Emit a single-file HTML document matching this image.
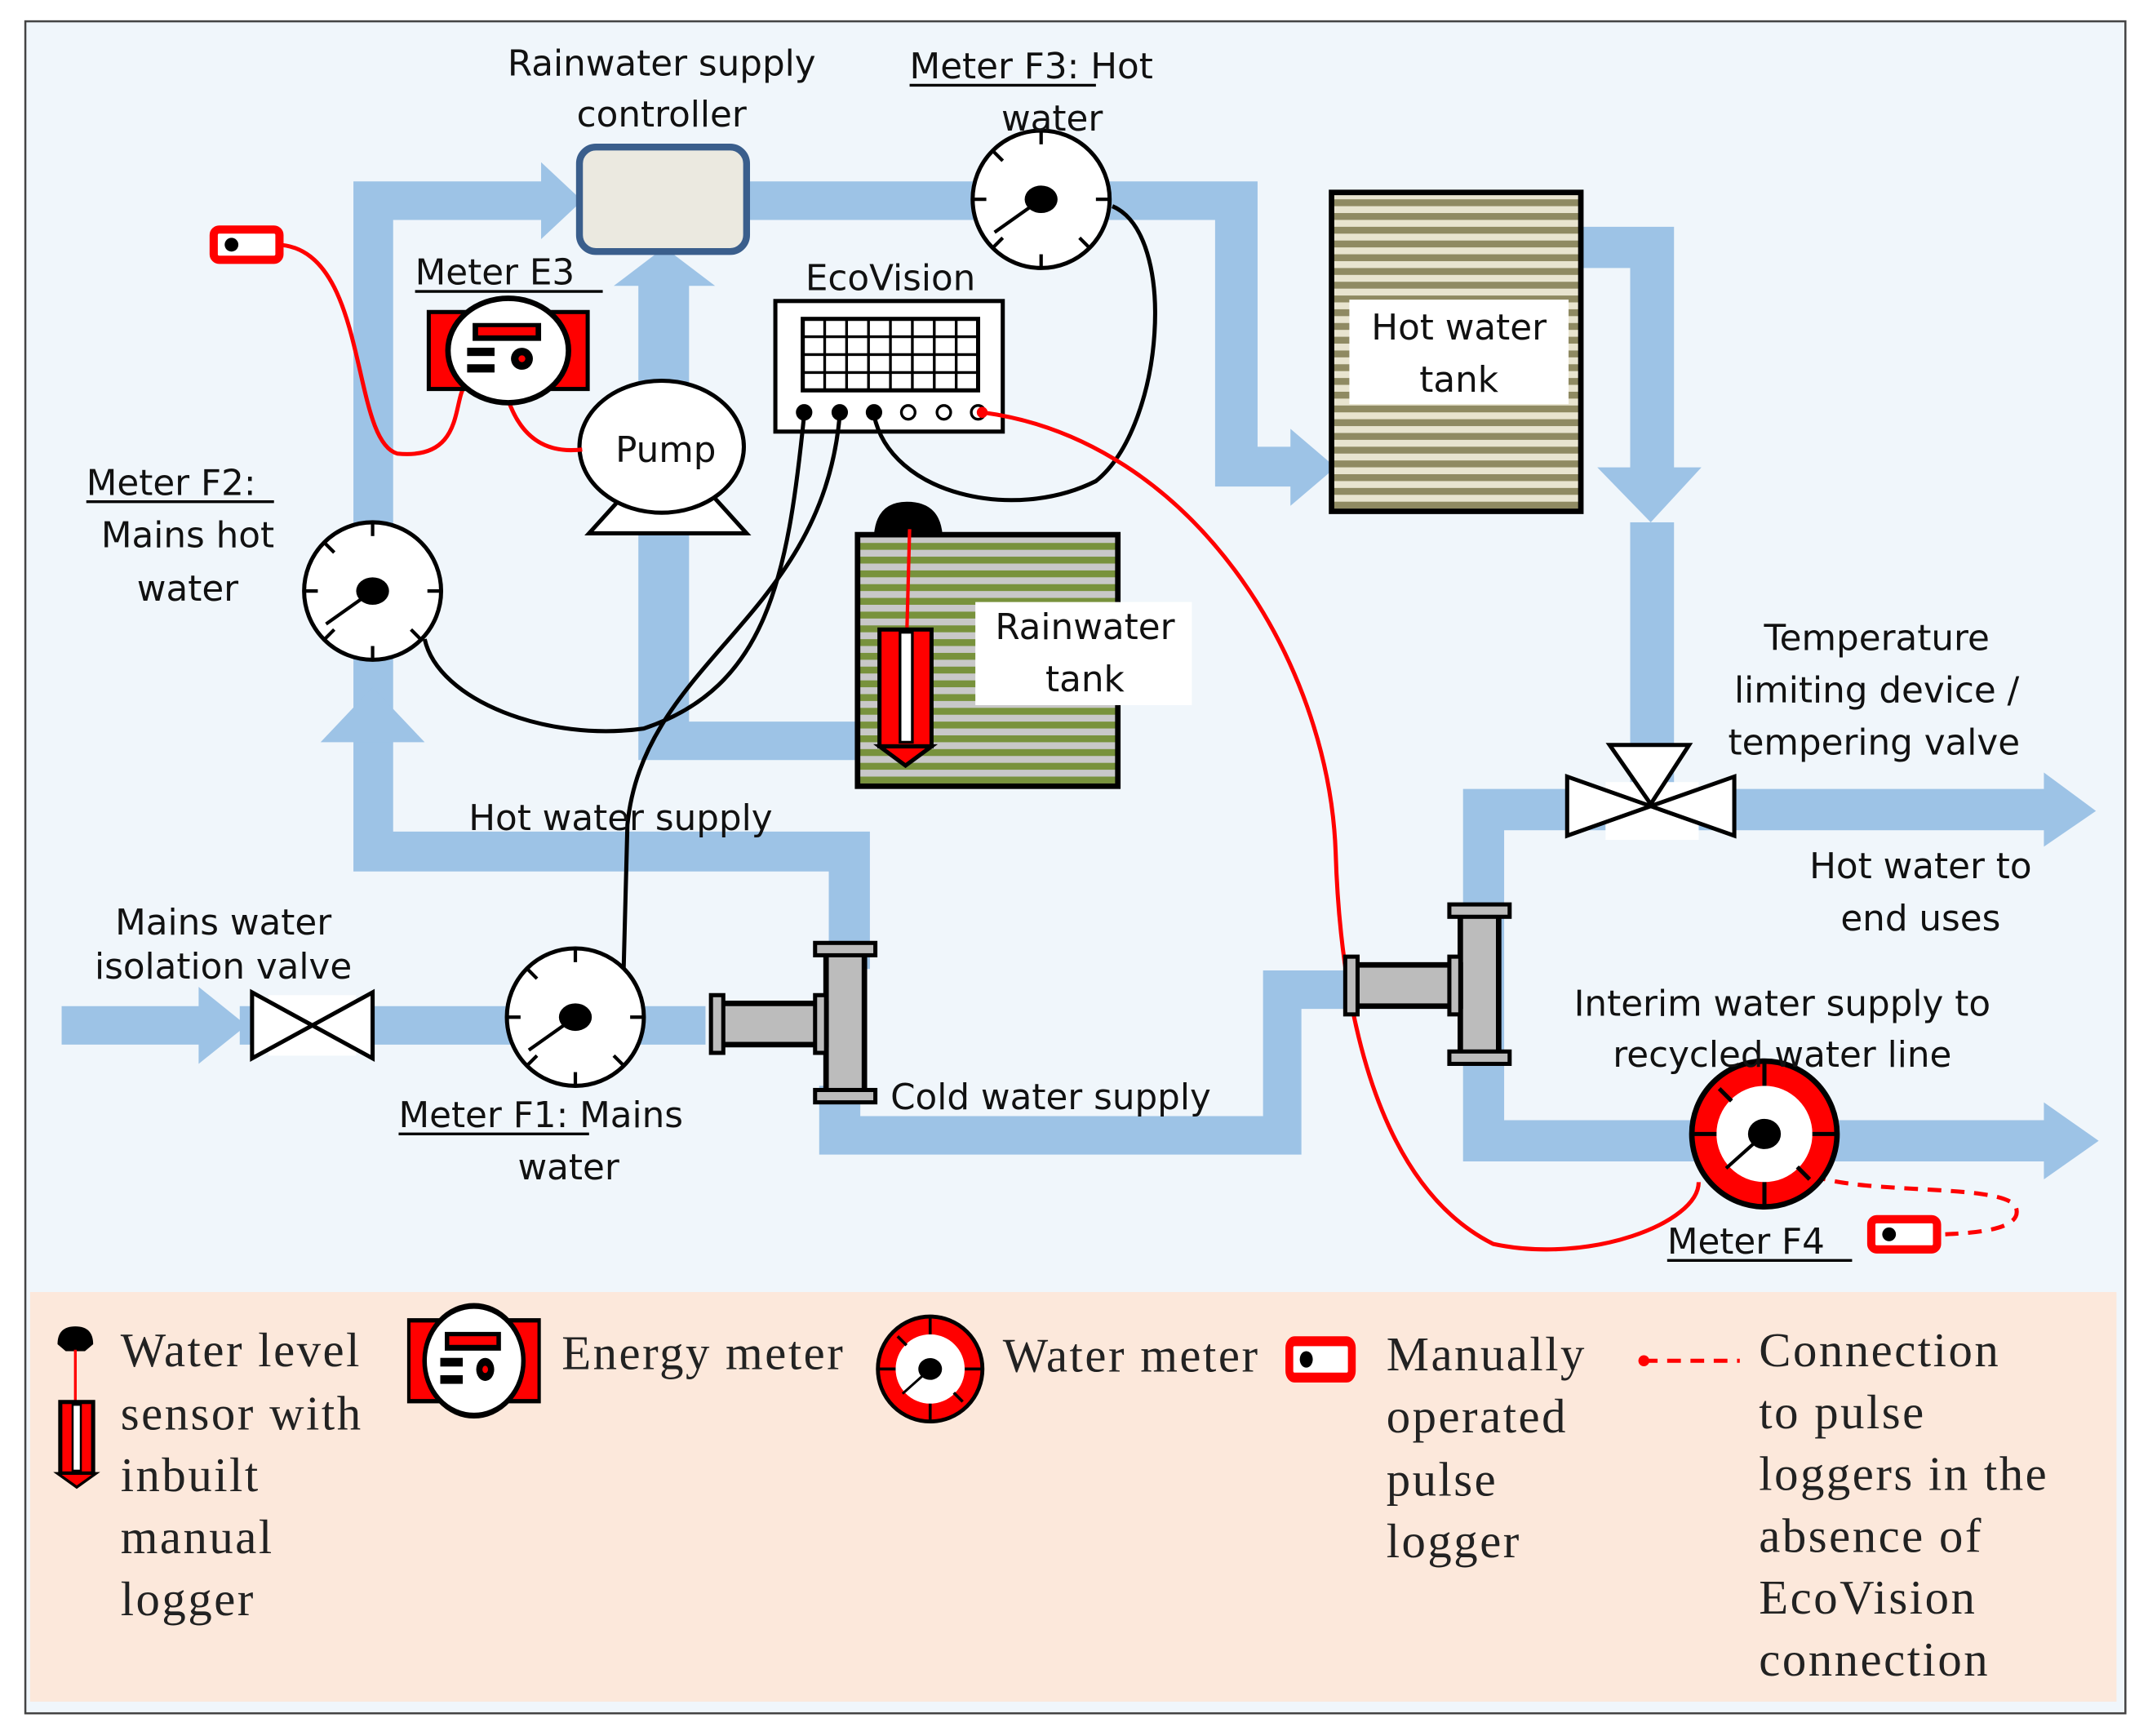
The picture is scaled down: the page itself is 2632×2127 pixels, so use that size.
<!DOCTYPE html>
<html><head><meta charset="utf-8"><style>
html,body{margin:0;padding:0;background:#fff;}
svg{display:block;}
.t{font-family:"DejaVu Sans","Liberation Sans",sans-serif;font-size:26px;fill:#111;}
.s{font-family:"Liberation Serif",serif;font-size:35px;fill:#222;letter-spacing:1.5px;}
</style></head><body>
<svg width="2632" height="2127" viewBox="0 0 1568 1263" preserveAspectRatio="none" xmlns="http://www.w3.org/2000/svg">
<defs>
<pattern id="hw" width="10" height="10" patternUnits="userSpaceOnUse"><rect width="10" height="10" fill="#e8e4cf"/><rect y="5" width="10" height="5" fill="#8f8a62"/></pattern>
<pattern id="rw" width="10" height="10" patternUnits="userSpaceOnUse"><rect width="10" height="10" fill="#c8c8c8"/><rect y="5" width="10" height="5" fill="#78923c"/></pattern>
<g id="gauge">
<circle r="50" fill="#fff" stroke="#000" stroke-width="3"/>
<g stroke="#000" stroke-width="2.5"><line x1="0" y1="-50" x2="0" y2="-40"/><line x1="0" y1="50" x2="0" y2="40"/><line x1="-50" y1="0" x2="-40" y2="0"/><line x1="50" y1="0" x2="40" y2="0"/><line x1="-35" y1="-35" x2="-28" y2="-28"/><line x1="35" y1="35" x2="28" y2="28"/><line x1="-35" y1="35" x2="-28" y2="28"/></g>
<ellipse rx="12" ry="10" fill="#000"/><line x1="0" y1="0" x2="-34" y2="24" stroke="#000" stroke-width="2.5"/>
</g>
<g id="wmeter">
<circle r="53" fill="#f00" stroke="#000" stroke-width="4"/><circle r="35" fill="#fff"/>
<g stroke="#000" stroke-width="3"><line x1="0" y1="-53" x2="0" y2="-35"/><line x1="0" y1="53" x2="0" y2="35"/><line x1="-53" y1="0" x2="-35" y2="0"/><line x1="53" y1="0" x2="35" y2="0"/><line x1="-33" y1="-33" x2="-24" y2="-24"/><line x1="33" y1="33" x2="24" y2="24"/></g>
<ellipse rx="12" ry="11" fill="#000"/><line x1="0" y1="0" x2="-28" y2="25" stroke="#000" stroke-width="2.5"/>
</g>
<g id="emeter">
<rect x="-58" y="-28" width="116" height="56" fill="#f00" stroke="#000" stroke-width="3"/>
<ellipse rx="44" ry="38" fill="#fff" stroke="#000" stroke-width="4"/>
<rect x="-26" y="-20" width="50" height="13" fill="#000"/><rect x="-22" y="-17" width="42" height="6" fill="#f00"/>
<rect x="-30" y="-2" width="20" height="6" fill="#000"/><rect x="-30" y="10" width="20" height="6" fill="#000"/>
<circle cx="10" cy="6" r="8" fill="#000"/><circle cx="10" cy="6" r="2.5" fill="#f00"/>
</g>
<g id="logger">
<rect x="-24" y="-11" width="48" height="22" rx="4" fill="#fff" stroke="#f00" stroke-width="6"/><ellipse cx="-11" rx="5" ry="5" fill="#000"/>
</g>
<g id="tee">
<rect x="-12" y="-55" width="28" height="110" fill="#bcbcbc" stroke="#000" stroke-width="4"/>
<rect x="-20" y="-58" width="44" height="9" fill="#bcbcbc" stroke="#000" stroke-width="3"/>
<rect x="-20" y="49" width="44" height="9" fill="#bcbcbc" stroke="#000" stroke-width="3"/>
<rect x="-88" y="-14" width="76" height="30" fill="#bcbcbc" stroke="#000" stroke-width="4"/>
<rect x="-96" y="-20" width="9" height="42" fill="#bcbcbc" stroke="#000" stroke-width="3"/>
<rect x="-20" y="-20" width="8" height="42" fill="#bcbcbc" stroke="#000" stroke-width="3"/>
</g>
</defs>
<rect x="0" y="0" width="1568" height="1263" fill="#fff"/>
<rect x="18.5" y="15.5" width="1533" height="1231" fill="#f0f6fb" stroke="#444" stroke-width="1.5"/>
<rect x="22" y="940" width="1523" height="298" fill="#fce8db"/>

<!-- pipes -->
<g fill="#9dc3e6">
<path d="M258 132 H395 V118 L425 146 L395 174 V160 H287 V605 H635 V705 H605 V634 H258 Z"/>
<polygon points="234,540 272,500 310,540"/>
<path d="M45 732 H145 V718 L180 746 L145 774 V760 H45 Z"/>
<rect x="175" y="732" width="340" height="28"/>
<path d="M598 790 H628 V812 H922 V706 H985 V734 H950 V840 H598 Z"/>
<path d="M466 206 V553 H630 V525 H503 V206 Z"/>
<polygon points="448,208 485,180 522,208"/>
<path d="M545 132 H918 V325 H942 V312 L975 340 L942 368 V354 H887 V160 H545 Z"/>
<path d="M1150 165 H1222 V340 H1242 L1205 380 L1166 340 H1190 V195 H1150 Z"/>
<rect x="1190" y="380" width="32" height="200"/>
<path d="M1068 574 H1492 V562 L1530 590 L1492 616 V604 H1098 V815 H1492 V802 L1532 830 L1492 858 V845 H1068 Z"/>
</g>

<!-- controller -->
<rect x="423" y="107" width="122" height="76" rx="12" fill="#ebe9e0" stroke="#3a5e8c" stroke-width="5"/>
<text class="t" x="483" y="55" text-anchor="middle">Rainwater supply</text>
<text class="t" x="483" y="92" text-anchor="middle">controller</text>

<!-- hot water tank -->
<rect x="972" y="140" width="182" height="232" fill="url(#hw)" stroke="#000" stroke-width="4"/>
<rect x="985" y="218" width="160" height="76" fill="#fff"/>
<text class="t" x="1065" y="247" text-anchor="middle">Hot water</text>
<text class="t" x="1065" y="285" text-anchor="middle">tank</text>

<!-- rainwater tank -->
<rect x="626" y="389" width="190" height="183" fill="url(#rw)" stroke="#000" stroke-width="4"/>
<rect x="712" y="438" width="158" height="75" fill="#fff"/>
<text class="t" x="792" y="465" text-anchor="middle">Rainwater</text>
<text class="t" x="792" y="503" text-anchor="middle">tank</text>
<path d="M638 389 Q640 365 662 365 Q686 365 688 389 Z" fill="#000"/>
<line x1="664" y1="385" x2="662" y2="460" stroke="#f00" stroke-width="2.5"/>
<rect x="642" y="458" width="38" height="85" fill="#f00" stroke="#000" stroke-width="3"/>
<rect x="657" y="460" width="9" height="80" fill="#fff" stroke="#000" stroke-width="2"/>
<polygon points="642,543 680,543 661,557" fill="#f00" stroke="#000" stroke-width="3"/>

<!-- EcoVision -->
<text class="t" x="650" y="211" text-anchor="middle">EcoVision</text>
<rect x="566" y="219" width="166" height="95" fill="#fff" stroke="#000" stroke-width="3"/>
<rect x="586" y="232" width="128" height="52" fill="#fff" stroke="#000" stroke-width="3"/>
<g stroke="#000" stroke-width="2">
<line x1="602" y1="232" x2="602" y2="284"/><line x1="618" y1="232" x2="618" y2="284"/><line x1="634" y1="232" x2="634" y2="284"/><line x1="650" y1="232" x2="650" y2="284"/><line x1="666" y1="232" x2="666" y2="284"/><line x1="682" y1="232" x2="682" y2="284"/><line x1="698" y1="232" x2="698" y2="284"/>
<line x1="586" y1="245" x2="714" y2="245"/><line x1="586" y1="258" x2="714" y2="258"/><line x1="586" y1="271" x2="714" y2="271"/>
</g>
<g stroke="#000" stroke-width="2"><circle cx="587" cy="300" r="5" fill="#000"/><circle cx="613" cy="300" r="5" fill="#000"/><circle cx="638" cy="300" r="5" fill="#000"/><circle cx="663" cy="300" r="5" fill="#fff"/><circle cx="689" cy="300" r="5" fill="#fff"/><circle cx="714" cy="300" r="5" fill="#fff"/></g>
<circle cx="717" cy="300" r="4" fill="#f00"/>

<!-- Pump -->
<polygon points="430,388 460,355 515,355 545,388" fill="#fff" stroke="#000" stroke-width="3"/>
<ellipse cx="483" cy="325" rx="60" ry="48" fill="#fff" stroke="#000" stroke-width="3"/>
<text class="t" x="486" y="336" text-anchor="middle">Pump</text>

<!-- wires black -->
<g fill="none" stroke="#000" stroke-width="3">
<path d="M587 302 C575 420 560 500 470 530 C400 540 320 510 310 465"/>
<path d="M613 302 C600 450 470 480 458 600 L455 715"/>
<path d="M638 302 C650 360 740 380 800 350 C850 310 860 170 812 150"/>
</g>
<!-- red wires -->
<g fill="none" stroke="#f00" stroke-width="3">
<path d="M202 178 C270 180 255 320 290 330 C340 335 330 290 340 280"/>
<path d="M370 288 C380 320 400 330 425 327"/>
<path d="M717 300 C870 320 970 480 975 620 C978 720 1000 860 1090 905 C1160 920 1240 890 1240 860"/>
<path d="M1323 855 C1360 870 1470 860 1472 880 C1475 895 1440 897 1420 898" stroke-dasharray="10,7"/>
</g>
<circle cx="202" cy="178" r="4" fill="#f00"/><circle cx="370" cy="288" r="4" fill="#f00"/>

<!-- meters -->
<use href="#gauge" x="760" y="145"/>
<use href="#gauge" x="272" y="430"/>
<use href="#gauge" x="420" y="740"/>
<use href="#emeter" x="371" y="255"/>
<use href="#logger" x="180" y="178"/>
<use href="#wmeter" x="1288" y="825"/>
<use href="#logger" x="1390" y="898"/>
<use href="#tee" x="615" y="744"/>
<use href="#tee" x="1078" y="716"/>

<!-- valves -->
<rect x="196" y="724" width="64" height="44" fill="#fff"/>
<polygon points="184,722 184,770 272,722 272,770" fill="#fff" stroke="#000" stroke-width="3"/>
<rect x="1172" y="569" width="68" height="42" fill="#fff"/>
<polygon points="1144,565 1144,608 1266,565 1266,608" fill="#fff" stroke="#000" stroke-width="3"/>
<polygon points="1175,542 1233,542 1205,585" fill="#fff" stroke="#000" stroke-width="3"/>

<!-- labels -->
<text class="t" x="664" y="57">Meter F3: Hot</text><line x1="664" y1="62" x2="800" y2="62" stroke="#000" stroke-width="2"/>
<text class="t" x="768" y="95" text-anchor="middle">water</text>
<text class="t" x="303" y="207">Meter E3</text><line x1="303" y1="212" x2="440" y2="212" stroke="#000" stroke-width="2"/>
<text class="t" x="63" y="360">Meter F2:</text><line x1="63" y1="365" x2="200" y2="365" stroke="#000" stroke-width="2"/>
<text class="t" x="137" y="398" text-anchor="middle">Mains hot</text>
<text class="t" x="137" y="437" text-anchor="middle">water</text>
<text class="t" x="453" y="604" text-anchor="middle">Hot water supply</text>
<text class="t" x="163" y="680" text-anchor="middle">Mains water</text>
<text class="t" x="163" y="712" text-anchor="middle">isolation valve</text>
<text class="t" x="291" y="820">Meter F1: Mains</text><line x1="291" y1="825" x2="430" y2="825" stroke="#000" stroke-width="2"/>
<text class="t" x="415" y="858" text-anchor="middle">water</text>
<text class="t" x="650" y="807">Cold water supply</text>
<text class="t" x="1370" y="473" text-anchor="middle">Temperature</text>
<text class="t" x="1370" y="511" text-anchor="middle">limiting device /</text>
<text class="t" x="1368" y="549" text-anchor="middle">tempering valve</text>
<text class="t" x="1402" y="639" text-anchor="middle">Hot water to</text>
<text class="t" x="1402" y="677" text-anchor="middle">end uses</text>
<text class="t" x="1301" y="739" text-anchor="middle">Interim water supply to</text>
<text class="t" x="1301" y="776" text-anchor="middle">recycled water line</text>
<text class="t" x="1217" y="912">Meter F4</text><line x1="1217" y1="917" x2="1352" y2="917" stroke="#000" stroke-width="2"/>

<!-- legend -->
<path d="M42 978 Q42 965 55 965 Q68 965 68 978 L62 983 H48 Z" fill="#000"/>
<line x1="55" y1="982" x2="55" y2="1022" stroke="#f00" stroke-width="2"/>
<rect x="44" y="1020" width="24" height="52" fill="#f00" stroke="#000" stroke-width="3"/>
<rect x="53" y="1022" width="6" height="48" fill="#fff" stroke="#000" stroke-width="1.5"/>
<polygon points="42,1072 70,1072 56,1082" fill="#f00" stroke="#000" stroke-width="2"/>
<text class="s" x="88" y="994">Water level</text>
<text class="s" x="88" y="1040">sensor with</text>
<text class="s" x="88" y="1085">inbuilt</text>
<text class="s" x="88" y="1130">manual</text>
<text class="s" x="88" y="1175">logger</text>
<use href="#emeter" x="346" y="990" transform="translate(346 990) scale(0.82 1.05) translate(-346 -990)"/>
<text class="s" x="410" y="996">Energy meter</text>
<use href="#wmeter" x="0" y="0" transform="translate(679 996) scale(0.72)"/>
<text class="s" x="732" y="998">Water meter</text>
<use href="#logger" x="0" y="0" transform="translate(964 989) scale(0.95 1.2)"/>
<text class="s" x="1012" y="997">Manually</text>
<text class="s" x="1012" y="1042">operated</text>
<text class="s" x="1012" y="1088">pulse</text>
<text class="s" x="1012" y="1133">logger</text>
<circle cx="1200" cy="990" r="4" fill="#f00"/>
<line x1="1200" y1="990" x2="1270" y2="990" stroke="#f00" stroke-width="3" stroke-dasharray="10,7"/>
<text class="s" x="1284" y="994">Connection</text>
<text class="s" x="1284" y="1039">to pulse</text>
<text class="s" x="1284" y="1084">loggers in the</text>
<text class="s" x="1284" y="1129">absence of</text>
<text class="s" x="1284" y="1174">EcoVision</text>
<text class="s" x="1284" y="1219">connection</text>
</svg>
</body></html>
